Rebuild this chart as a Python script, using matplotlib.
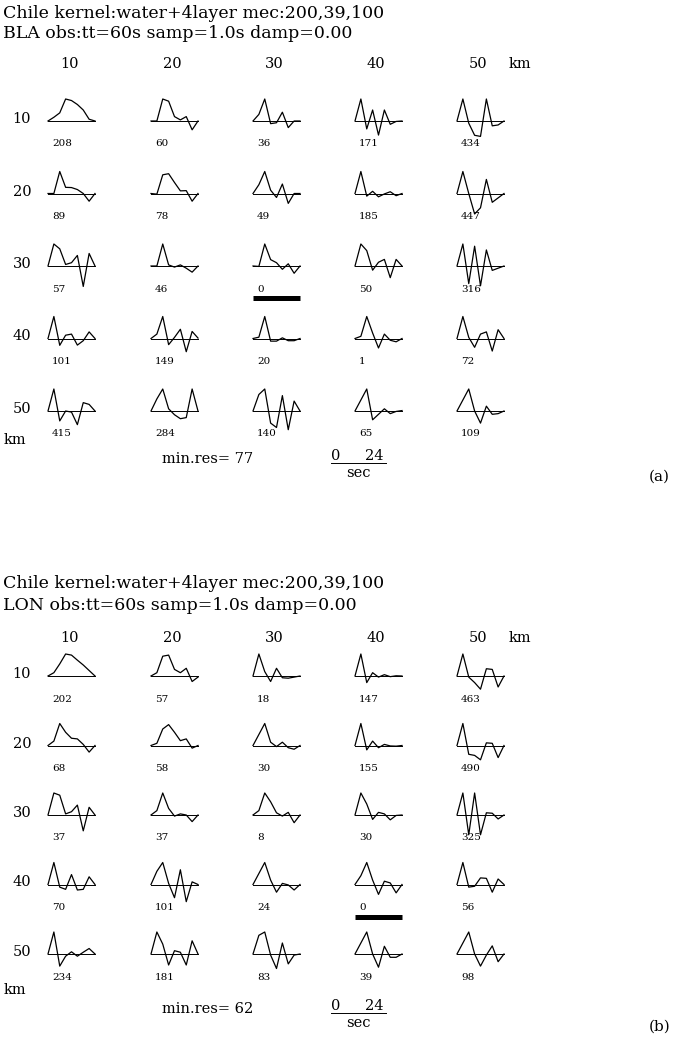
import matplotlib.pyplot as plt

# depth grid (km)
depths = [10, 20, 30, 40, 50]

# trace sample times (s) and normalised amplitudes, one row per depth row
times = [0, 3, 6, 9, 12, 15, 18, 21, 24]

bla_traces = [
    [[0, 0.17, 0.37, 1.0, 0.93, 0.75, 0.5, 0.08, 0],
     [0, 0, 1.0, 0.9, 0.2, 0.05, 0.2, -0.4, 0],
     [0, 0.3, 1.0, -0.12, -0.08, 0.4, -0.3, 0, 0],
     [0, 1.0, -0.36, 0.5, -0.64, 0.5, -0.15, -0.02, 0],
     [0, 1.0, -0.1, -0.65, -0.7, 1.0, -0.22, -0.18, 0]],
    [[0, 0, 1.0, 0.28, 0.27, 0.18, 0, -0.35, 0],
     [0, -0.03, 0.85, 0.9, 0.5, 0.12, 0.13, -0.35, 0],
     [0, 0.4, 1.0, 0.15, -0.18, 0.43, -0.45, 0, 0],
     [0, 1.0, -0.12, 0.1, -0.15, -0.02, 0.08, -0.1, 0],
     [0, 1.0, 0, -0.93, -0.65, 0.64, -0.4, -0.2, 0]],
    [[0, 1.0, 0.78, 0.07, 0.15, 0.48, -0.93, 0.57, 0],
     [0, 0, 1.0, 0.05, -0.05, 0.05, -0.1, -0.28, 0],
     [0, -0.02, 1.0, 0.29, 0.15, -0.15, 0.1, -0.33, 0],
     [0, 1.0, 0.7, -0.19, 0.17, 0.3, -0.53, 0.3, 0],
     [0, 1.0, -0.8, 0.9, -0.9, 0.73, -0.2, -0.1, 0]],
    [[0, 1.0, -0.31, 0.15, 0.2, -0.3, -0.1, 0.3, 0],
     [0, 0.2, 1.0, -0.28, 0.05, 0.42, -0.6, 0.32, 0.02],
     [0, 0.06, 1.0, -0.12, -0.12, 0.03, -0.1, -0.1, 0],
     [0, 0.1, 1.0, 0.25, -0.43, 0.2, -0.08, -0.15, 0],
     [0, 1.0, 0.05, -0.4, 0.2, 0.3, -0.57, 0.4, 0]],
    [[0, 1.0, -0.45, 0, -0.05, -0.62, 0.38, 0.3, 0],
     [0, 0.55, 1.0, 0.1, -0.17, -0.35, -0.3, 1.0, 0],
     [0, 0.75, 1.0, -0.55, -0.75, 0.7, -0.85, 0.45, 0],
     [0, 0.5, 1.0, -0.4, -0.15, 0.1, -0.12, -0.02, 0.02],
     [0, 0.5, 1.0, 0, -0.55, 0.22, -0.15, -0.12, 0]],
]

lon_traces = [
    [[0, 0.15, 0.55, 1.0, 0.95, 0.72, 0.5, 0.25, 0],
     [0, 0.15, 0.9, 0.95, 0.3, 0.15, 0.35, -0.25, -0.05],
     [0, 1.0, 0.2, -0.25, 0.35, -0.08, -0.1, -0.05, 0],
     [0, 1.0, -0.3, 0.15, -0.05, 0.06, -0.03, 0.01, 0],
     [0, 1.0, -0.05, -0.3, -0.6, 0.33, 0.3, -0.5, 0]],
    [[0, 0.2, 1.0, 0.6, 0.33, 0.3, 0.05, -0.3, 0],
     [0, 0.1, 0.75, 0.95, 0.6, 0.22, 0.3, -0.12, 0],
     [0, 0.5, 1.0, 0.15, -0.05, 0.15, -0.1, -0.17, 0],
     [0, 1.0, -0.2, 0.2, -0.1, 0.05, -0.02, -0.03, 0],
     [0, 1.0, -0.4, -0.45, -0.65, 0.12, 0.1, -0.55, 0]],
    [[0, 1.0, 0.9, 0.05, 0.15, 0.45, -0.72, 0.35, 0],
     [0, 0.2, 1.0, 0.3, -0.05, 0.05, 0, -0.3, 0],
     [0, 0.2, 1.0, 0.6, 0.1, -0.05, 0.12, -0.35, 0],
     [0, 1.0, 0.5, -0.2, 0.12, 0.05, -0.22, -0.02, 0],
     [0, 1.0, -0.9, 1.0, -0.9, 0.1, 0.08, -0.18, 0]],
    [[0, 1.0, -0.12, -0.22, 0.45, -0.25, -0.22, 0.35, 0],
     [0, 0.6, 1.0, 0.05, -0.6, 0.67, -0.78, 0.12, 0],
     [0, 0.5, 1.0, 0.2, -0.35, 0.05, -0.02, -0.25, 0],
     [0, 0.4, 1.0, 0.2, -0.45, 0.15, 0.07, -0.38, 0],
     [0, 1.0, -0.12, -0.08, 0.3, 0.28, -0.35, 0.25, 0]],
    [[0, 1.0, -0.55, -0.1, 0.1, -0.1, 0.08, 0.25, 0],
     [0, 1.0, 0.45, -0.5, 0.15, 0.08, -0.5, 0.6, 0],
     [0, 0.85, 1.0, -0.05, -0.66, 0.5, -0.45, -0.05, 0],
     [0, 0.5, 1.0, 0, -0.6, 0.35, -0.15, -0.15, 0],
     [0, 0.5, 1.0, 0, -0.55, -0.05, 0.37, -0.35, 0]],
]

# residuals printed under each trace
bla_res = [[208, 60, 36, 171, 434],
           [89, 78, 49, 185, 447],
           [57, 46, 0, 50, 316],
           [101, 149, 20, 1, 72],
           [415, 284, 140, 65, 109]]
lon_res = [[202, 57, 18, 147, 463],
           [68, 58, 30, 155, 490],
           [37, 37, 8, 30, 325],
           [70, 101, 24, 0, 56],
           [234, 181, 83, 39, 98]]

bla_minres = 77
lon_minres = 62

FONT = 'DejaVu Serif'
W, H = 674, 1042

fig = plt.figure(figsize=(W / 100, H / 100), dpi=100)
ax = fig.add_axes([0, 0, 1, 1])
ax.set_xlim(0, W)
ax.set_ylim(H, 0)
ax.axis('off')

col_x = [48, 151, 253, 355, 457]   # left edge of each trace
tr_w = 47                          # trace width (px per 24 s)
amp = 22                           # px per unit amplitude


def draw_panel(title_y, header_y, row_y, foot_y, station, traces, res,
               minres, tag):
    ax.text(3, title_y, 'Chile kernel:water+4layer mec:200,39,100',
            fontsize=12.5, family=FONT, va='center')
    ax.text(3, title_y + 21, station + ' obs:tt=60s samp=1.0s damp=0.00',
            fontsize=12.5, family=FONT, va='center')
    for j, d in enumerate(depths):
        ax.text(col_x[j] + 21, header_y, str(d), fontsize=10.5,
                family=FONT, ha='center', va='center')
    ax.text(col_x[4] + 63, header_y, 'km', fontsize=10.5, family=FONT,
            ha='center', va='center')

    # mark the best-fitting cell
    best = min((res[i][j], i, j) for i in range(5) for j in range(5))

    for i, d in enumerate(depths):
        yb = row_y[i]
        ax.text(22, yb - 2, str(d), fontsize=10.5, family=FONT,
                ha='center', va='center')
        for j in range(5):
            x0 = col_x[j]
            xs = [x0 + t / times[-1] * tr_w for t in times]
            ys = [yb - v * amp for v in traces[i][j]]
            ax.plot([x0, x0 + tr_w], [yb, yb], color='black', lw=0.7)
            ax.plot(xs, ys, color='black', lw=0.9)
            ax.text(x0 + 4, yb + 23, str(res[i][j]), fontsize=7.5,
                    family=FONT, va='center')
            if (i, j) == best[1:]:
                ax.plot([x0, x0 + tr_w], [yb + 32, yb + 32], color='black',
                        lw=3.6, solid_capstyle='butt')

    yk = foot_y
    ax.text(4, yk, 'km', fontsize=10.5, family=FONT, va='center')
    ax.text(162, yk + 19, 'min.res= %d' % minres, fontsize=10.5,
            family=FONT, va='center')
    ax.text(336, yk + 16, '0', fontsize=10.5, family=FONT, ha='center',
            va='center')
    ax.text(374, yk + 16, '24', fontsize=10.5, family=FONT, ha='center',
            va='center')
    ax.plot([331, 386], [yk + 23, yk + 23], color='black', lw=0.7)
    ax.text(358, yk + 33, 'sec', fontsize=10.5, family=FONT, ha='center',
            va='center')
    ax.text(670, yk + 37, tag, fontsize=11, family=FONT, ha='right',
            va='center')


draw_panel(13, 64, [121, 193.5, 266, 338.5, 411], 440, 'BLA',
           bla_traces, bla_res, bla_minres, '(a)')
draw_panel(584, 638, [676, 745.5, 815, 884.5, 954], 990, 'LON',
           lon_traces, lon_res, lon_minres, '(b)')

fig.savefig('out.png', dpi=100)
